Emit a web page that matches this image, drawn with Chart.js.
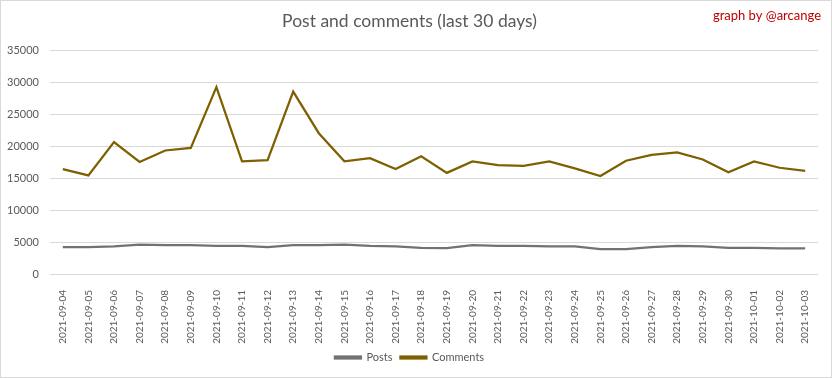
<!DOCTYPE html>
<html>
<head>
<meta charset="utf-8">
<script src="https://cdn.jsdelivr.net/npm/chart.js@4"></script>
<style>
	body { margin: 0; background: #fff; }
	#wrap { width: 832px; height: 378px; box-sizing: border-box; border: 1px solid #d9d9d9; position: relative; }
	#linecanvas { display: block; }
</style>
</head>
<body>
<div id="wrap"><canvas id="linecanvas" width="830" height="376"></canvas></div>
<script>
var days = ["2021-09-04","2021-09-05","2021-09-06","2021-09-07","2021-09-08","2021-09-09","2021-09-10","2021-09-11","2021-09-12","2021-09-13",
	"2021-09-14","2021-09-15","2021-09-16","2021-09-17","2021-09-18","2021-09-19","2021-09-20","2021-09-21","2021-09-22","2021-09-23",
	"2021-09-24","2021-09-25","2021-09-26","2021-09-27","2021-09-28","2021-09-29","2021-09-30","2021-10-01","2021-10-02","2021-10-03"];

var posts = [4200,4200,4300,4600,4500,4500,4400,4400,4200,4500,
	4500,4600,4400,4300,4100,4050,4500,4400,4400,4300,
	4300,3900,3900,4200,4400,4300,4100,4100,4000,4000];

var comments = [16400,15400,20600,17500,19300,19700,29200,17600,17800,28500,
	22000,17600,18100,16400,18400,15800,17600,17000,16900,17600,
	16500,15300,17700,18600,19000,17900,15900,17600,16600,16100];

var yTicks = [0,5000,10000,15000,20000,25000,30000,35000];

var fontName = "Lato, 'Liberation Sans', sans-serif";

// red credit text in the top right corner
var creditPlugin = {
	id: 'credit',
	afterDraw: function(chart) {
		var ctx = chart.ctx;
		ctx.save();
		ctx.font = "13px " + fontName;
		ctx.fillStyle = "#c00000";
		ctx.textAlign = "right";
		ctx.textBaseline = "middle";
		ctx.fillText("graph by @arcange", 820, 15);
		ctx.restore();
	}
};

var chartdata = {
	labels: days,
	datasets: [
		{
			label: "Posts",
			fill: false,
			lineTension: 0,
			borderColor: "#767171",
			backgroundColor: "#767171",
			borderWidth: 2.25,
			pointRadius: 0,
			data: posts
		},
		{
			label: "Comments",
			fill: false,
			lineTension: 0,
			borderColor: "#7f6000",
			backgroundColor: "#7f6000",
			borderWidth: 2.25,
			pointRadius: 0,
			data: comments
		}
	]
};

var ctx = document.getElementById("linecanvas");

var LineGraph = new Chart(ctx, {
	type: 'line',
	data: chartdata,
	plugins: [creditPlugin],
	options: {
		responsive: false,
		animation: false,
		layout: { padding: { left: 0, right: 13, top: 0, bottom: 4 } },
		plugins: {
			title: {
				display: true,
				text: "Post and comments (last 30 days)",
				color: "#595959",
				font: { family: fontName, size: 17.5, weight: 'normal' },
				padding: { top: 10, bottom: 18 }
			},
			legend: {
				position: 'bottom',
				labels: {
					color: "#595959",
					font: { family: fontName, size: 11 },
					boxWidth: 26,
					boxHeight: 2,
					padding: 8
				}
			},
			tooltip: { enabled: false }
		},
		scales: {
			x: {
				offset: true,
				afterFit: function(scale) { scale.height = 70; },
				grid: { display: false },
				border: { display: false },
				ticks: {
					color: "#595959",
					font: { family: fontName, size: 10 },
					minRotation: 90,
					maxRotation: 90,
					autoSkip: false,
					padding: 8
				}
			},
			y: {
				min: 0,
				max: 35000,
				afterFit: function(scale) { scale.width = 49; },
				afterBuildTicks: function(scale) {
					scale.ticks = yTicks.map(function(v) { return { value: v }; });
				},
				grid: { color: "#d9d9d9", lineWidth: 1, drawTicks: false },
				border: { display: false },
				ticks: {
					color: "#595959",
					font: { family: fontName, size: 11 },
					padding: 11,
					callback: function(v) { return String(v); }
				}
			}
		}
	}
});
</script>
</body>
</html>
